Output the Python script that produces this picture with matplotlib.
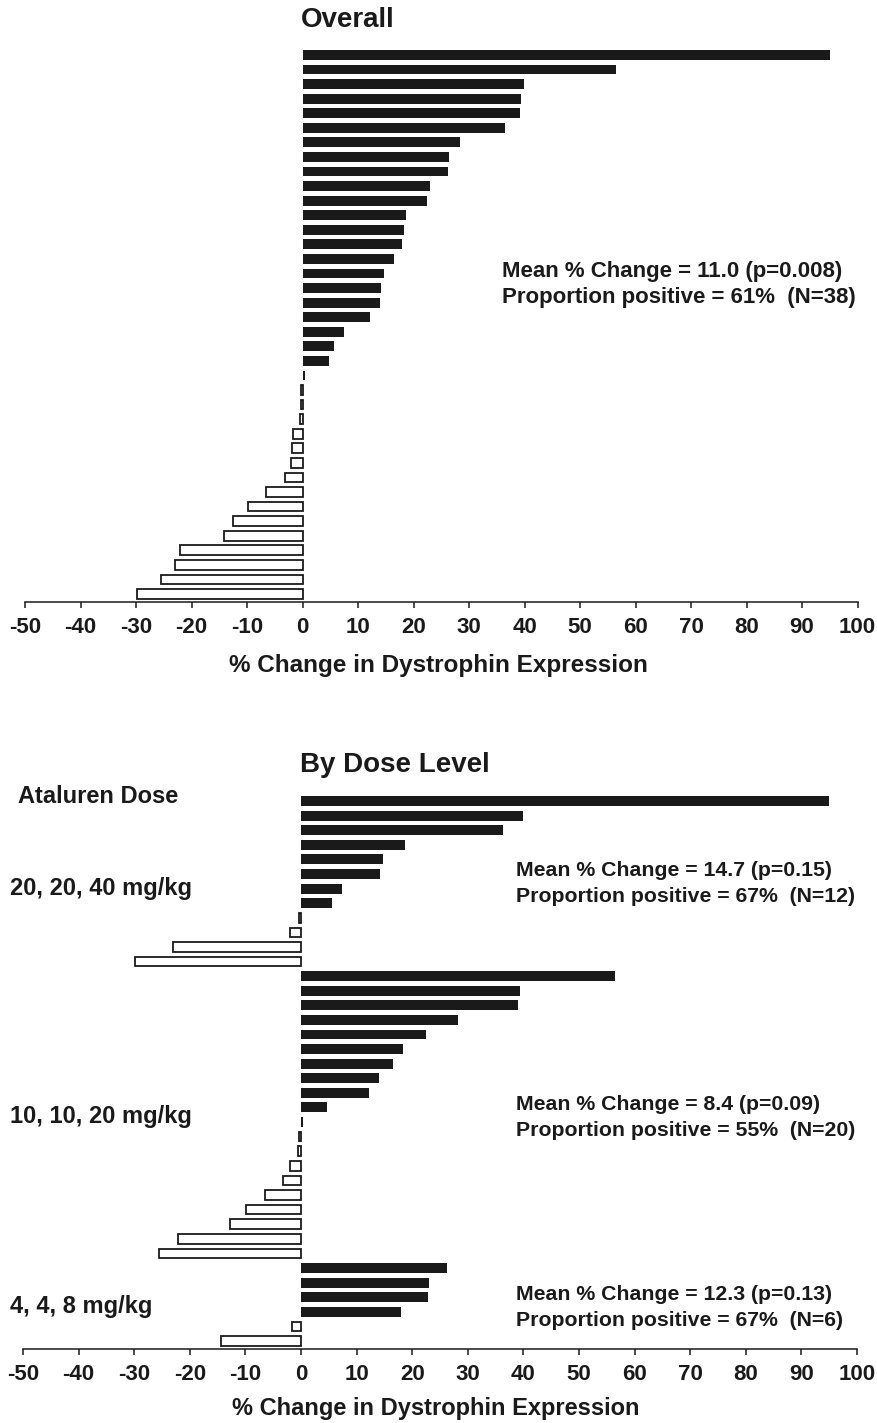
import matplotlib
matplotlib.use("Agg")
import matplotlib.pyplot as plt

plt.rcParams["font.family"] = ["Liberation Sans", "DejaVu Sans"]
plt.rcParams["font.weight"] = "bold"

INK = "#1a1a1a"

# Per-patient % change in dystrophin expression, sorted high to low
overall_change = [95.0, 56.5, 39.9, 39.3, 39.2, 36.5, 28.4, 26.4, 26.3, 23.0,
                  22.4, 18.6, 18.3, 17.9, 16.5, 14.7, 14.1, 14.0, 12.2, 7.4,
                  5.6, 4.8, 0.5, -0.3, -0.3, -0.5, -1.7, -1.9, -2.0, -3.2,
                  -6.5, -9.8, -12.6, -14.1, -22.0, -23.0, -25.5, -29.9]

dose_labels = ["20, 20, 40 mg/kg", "10, 10, 20 mg/kg", "4, 4, 8 mg/kg"]
high_dose_change = [95.0, 39.9, 36.4, 18.7, 14.7, 14.2, 7.4, 5.6,
                    -0.3, -1.9, -23.0, -29.9]
mid_dose_change = [56.5, 39.4, 39.1, 28.3, 22.4, 18.3, 16.6, 14.0, 12.2, 4.7,
                   0.4, -0.3, -0.5, -2.0, -3.2, -6.5, -9.9, -12.7, -22.1, -25.5]
low_dose_change = [26.3, 23.1, 22.9, 17.9, -1.7, -14.3]

overall_stats = ["Mean % Change = 11.0 (p=0.008)",
                 "Proportion positive = 61%  (N=38)"]
dose_stats = [["Mean % Change = 14.7 (p=0.15)",
               "Proportion positive = 67%  (N=12)"],
              ["Mean % Change = 8.4 (p=0.09)",
               "Proportion positive = 55%  (N=20)"],
              ["Mean % Change = 12.3 (p=0.13)",
               "Proportion positive = 67%  (N=6)"]]

tick_values = list(range(-50, 101, 10))

W, H = 877, 1423


def fx(px):
    return px / W


def fy(py):
    return 1 - py / H


def draw_bars(ax, values):
    """Filled bars for gains, open bars for losses."""
    ypos = list(range(len(values)))
    pos = [v if v >= 0 else 0 for v in values]
    ax.barh(ypos, pos, height=0.68, color=INK, linewidth=0)
    ax.barh([y for y, v in zip(ypos, values) if v < 0],
            [v for v in values if v < 0], height=0.66, color="white",
            edgecolor=INK, linewidth=1.3)
    ax.set_xlim(-50, 100)
    ax.set_ylim(len(values) - 1 + 0.55, -0.8)
    for side in ["top", "right", "left"]:
        ax.spines[side].set_visible(False)
    ax.spines["bottom"].set_linewidth(1.1)
    ax.spines["bottom"].set_color(INK)
    ax.set_yticks([])
    ax.set_xticks(tick_values)
    ax.set_xticklabels([str(t) for t in tick_values], fontsize=16,
                       fontweight="bold", color=INK)
    ax.tick_params(axis="x", direction="out", length=4.5, width=1.1,
                   color=INK, pad=6)


fig = plt.figure(figsize=(W / 100, H / 100), dpi=100)

# Overall panel
ax1 = fig.add_axes([fx(25), fy(602), fx(832.5), 558.7 / H])
draw_bars(ax1, overall_change)
fig.text(fx(348), fy(20), "Overall", ha="center", va="center",
         fontsize=20, fontweight="bold", color=INK)
fig.text(fx(438), fy(665), "% Change in Dystrophin Expression",
         ha="center", va="center", fontsize=17.5, fontweight="bold", color=INK)
for i, line in enumerate(overall_stats):
    fig.text(fx(502), fy(272 + 26 * i), line, ha="left", va="center",
             fontsize=16, fontweight="bold", color=INK)

# By dose level panel
by_dose = high_dose_change + mid_dose_change + low_dose_change
ax2 = fig.add_axes([fx(23), fy(1349), fx(834), 559.7 / H])
draw_bars(ax2, by_dose)
fig.text(fx(395), fy(765), "By Dose Level", ha="center", va="center",
         fontsize=20, fontweight="bold", color=INK)
fig.text(fx(436), fy(1408), "% Change in Dystrophin Expression",
         ha="center", va="center", fontsize=17, fontweight="bold", color=INK)
fig.text(fx(18), fy(797), "Ataluren Dose", ha="left", va="center",
         fontsize=17, fontweight="bold", color=INK)

label_y = [888, 1117, 1307]
stats_y = [871, 1105, 1295]
for lab, ly, sy, stats in zip(dose_labels, label_y, stats_y, dose_stats):
    fig.text(fx(10), fy(ly), lab, ha="left", va="center",
             fontsize=17, fontweight="bold", color=INK)
    for i, line in enumerate(stats):
        fig.text(fx(516), fy(sy + 26 * i), line, ha="left", va="center",
                 fontsize=15.3, fontweight="bold", color=INK)

fig.savefig("out.png", dpi=100, facecolor="white")
